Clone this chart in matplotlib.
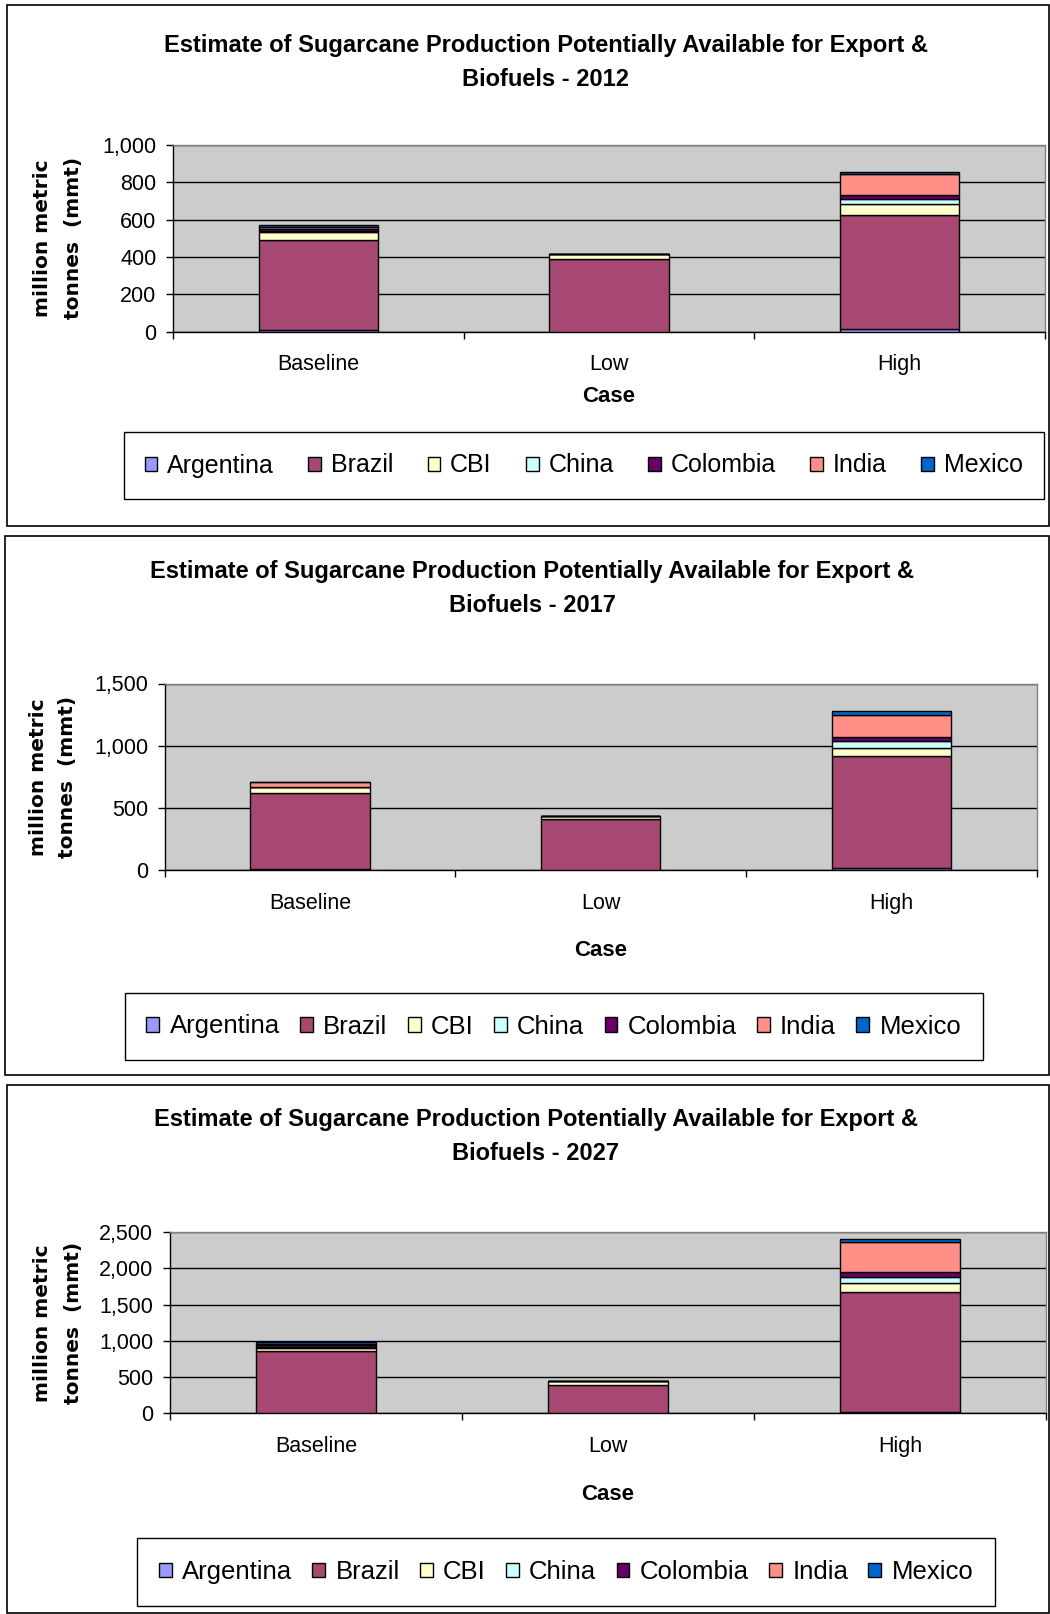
import matplotlib
matplotlib.use("Agg")
import numpy as np
import matplotlib.pyplot as plt
from matplotlib.patches import Rectangle
from matplotlib.ticker import FuncFormatter, MultipleLocator, FixedLocator

plt.rcParams['font.family'] = ['Liberation Sans', 'DejaVu Sans']

cases = ["Baseline", "Low", "High"]
countries = ["Argentina", "Brazil", "CBI", "China", "Colombia", "India", "Mexico"]
colors = ["#9999FF", "#A64872", "#FFFFCC", "#CCFFFF", "#660066", "#FF8F87", "#0066CC"]

# rows follow countries, columns follow cases (million metric tonnes)
prod_2012 = np.array([
    [10, 0, 12],
    [481, 391, 614],
    [43, 22, 56],
    [5, 1, 26],
    [12, 1, 22],
    [8, 0, 112],
    [10, 0, 13],
])
prod_2017 = np.array([
    [3, 0, 15],
    [613, 406, 901],
    [53, 25, 62],
    [0, 0, 59],
    [0, 0, 35],
    [35, 0, 172],
    [0, 0, 37],
])
prod_2027 = np.array([
    [5, 0, 25],
    [856, 398, 1646],
    [46, 43, 124],
    [10, 0, 87],
    [25, 0, 65],
    [10, 0, 414],
    [30, 0, 41],
])

years = ["2012", "2017", "2027"]
y_max = [1000, 1500, 2500]
y_step = [200, 500, 500]

W, H = 1050, 1614

def fig_rect(l, t, r, b):
    return [l / W, 1 - b / H, (r - l) / W, (b - t) / H]

# pixel layout of each panel
frames = [(7, 5, 1049, 526), (5, 536, 1049, 1075), (7, 1085, 1049, 1613)]
axes_box = [(173, 145, 1045, 331.5), (164.7, 683.5, 1036.6, 869.8), (169.9, 1232.2, 1046, 1413.4)]
titles = [(546, 45.5, 79.5), (532, 571.5, 605.5), (536, 1119.5, 1153.5)]
ylabels = [(43, 74, 238), (39, 68, 777), (43, 73, 1323)]
case_y = [396, 950, 1494]
legend_box = [(123.5, 432, 1044, 499), (124.6, 992, 983, 1061), (137, 1537, 995, 1607)]
legend_size = [18, 18.5, 18.5]

fig = plt.figure(figsize=(W / 100, H / 100), dpi=100)
fig.patch.set_facecolor("white")

for k, data in enumerate([prod_2012, prod_2017, prod_2027]):
    l, t, r, b = frames[k]
    fig.patches.append(Rectangle((l / W, 1 - b / H), (r - l) / W, (b - t) / H,
                                 transform=fig.transFigure, fill=False,
                                 edgecolor="black", linewidth=1.2))

    ax = fig.add_axes(fig_rect(*axes_box[k]))
    ax.set_facecolor("#CCCCCC")
    x = np.arange(len(cases))
    bottom = np.zeros(len(cases))
    handles = []
    for i, color in enumerate(colors):
        bars = ax.bar(x, data[i], width=0.41, bottom=bottom, color=color,
                      edgecolor="black", linewidth=1, zorder=3)
        handles.append(bars)
        bottom += data[i]

    ax.set_xlim(-0.5, 2.5)
    ax.set_ylim(0, y_max[k])
    ax.yaxis.set_major_locator(MultipleLocator(y_step[k]))
    ax.yaxis.set_major_formatter(FuncFormatter(lambda v, p: f"{v:,.0f}"))
    ax.grid(axis="y", color="black", linewidth=1, zorder=1)
    ax.set_axisbelow(True)

    ax.xaxis.set_major_locator(FixedLocator([-0.5, 0.5, 1.5, 2.5]))
    ax.xaxis.set_major_formatter(FuncFormatter(lambda v, p: ""))
    ax.xaxis.set_minor_locator(FixedLocator(x))
    ax.set_xticklabels(cases, minor=True)
    ax.tick_params(axis="x", which="major", length=5, width=1, direction="out")
    ax.tick_params(axis="x", which="minor", length=0, pad=16.5, labelsize=15.5)
    ax.tick_params(axis="y", length=5, width=1, pad=7, labelsize=15.5)

    for side in ["left", "bottom"]:
        ax.spines[side].set_color("black")
        ax.spines[side].set_linewidth(1)
    for side in ["top", "right"]:
        ax.spines[side].set_color("#808080")
        ax.spines[side].set_linewidth(1)

    tx, ty1, ty2 = titles[k]
    fig.text(tx / W, 1 - ty1 / H,
             "Estimate of Sugarcane Production Potentially Available for Export &",
             ha="center", va="center", fontsize=17, fontweight="bold")
    fig.text(tx / W, 1 - ty2 / H, "Biofuels - " + years[k],
             ha="center", va="center", fontsize=17, fontweight="bold")

    lx1, lx2, ly = ylabels[k]
    fig.text(lx1 / W, 1 - ly / H, "million metric", rotation=90, ha="center",
             va="center", fontsize=14.5, fontweight="bold", family="DejaVu Sans")
    fig.text(lx2 / W, 1 - ly / H, "tonnes  (mmt)", rotation=90, ha="center",
             va="center", fontsize=14.5, fontweight="bold", family="DejaVu Sans")

    al, at, ar, ab = axes_box[k]
    fig.text(((al + ar) / 2) / W, 1 - case_y[k] / H, "Case", ha="center",
             va="center", fontsize=16, fontweight="bold")

    gl, gt, gr, gb = legend_box[k]
    leg = ax.legend(handles, countries, ncol=7, mode="expand",
                    bbox_to_anchor=(gl / W, 1 - gb / H, (gr - gl) / W, (gb - gt) / H),
                    bbox_transform=fig.transFigure, loc="center",
                    borderaxespad=0, fontsize=legend_size[k], handlelength=0.5,
                    handleheight=0.5, handletextpad=0.4, borderpad=0.85,
                    fancybox=False, framealpha=1, edgecolor="black")
    leg.get_frame().set_linewidth(1)

fig.savefig("out.png", dpi=100)
